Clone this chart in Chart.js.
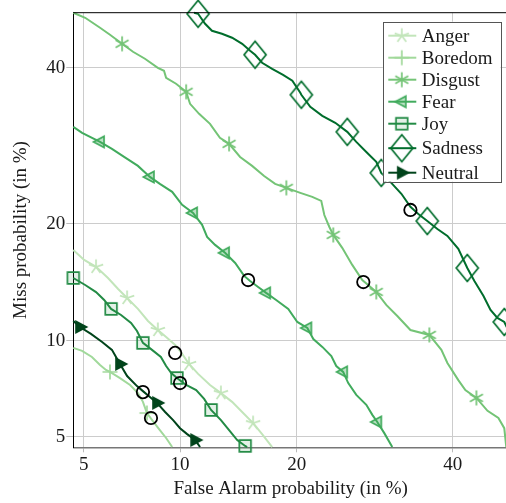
<!DOCTYPE html>
<html>
<head>
<meta charset="utf-8">
<script src="https://cdn.jsdelivr.net/npm/chart.js@4.4.1/dist/chart.umd.min.js"></script>
<style>
html, body { margin: 0; padding: 0; background: #fff; overflow: hidden; }
#wrap { width: 506px; height: 503px; overflow: hidden; }
</style>
</head>
<body>
<div id="wrap"><canvas id="det" width="520" height="503"></canvas></div>
<script>
// DET curves, values in percent (false alarm, miss)
const angerFA   = [4.61, 5.02, 5.50, 6.02, 6.49, 6.93, 7.49, 8.04, 8.61, 9.11, 9.74, 10.14, 10.61, 11.25, 12.13, 12.98, 13.89, 14.92, 15.72, 16.55, 17.51];
const angerMiss = [17.37, 16.42, 15.78, 14.79, 13.85, 13.12, 12.26, 11.36, 10.72, 10.24, 9.66, 9.15, 8.54, 7.97, 7.37, 6.95, 6.52, 5.96, 5.56, 5.11, 4.62];

const boredomFA   = [4.61, 4.94, 5.33, 5.67, 5.93, 6.11, 6.58, 7.08, 7.49, 7.76, 7.98, 8.32, 8.73, 9.11, 9.49];
const boredomMiss = [9.53, 9.34, 8.96, 8.48, 8.19, 8.08, 7.74, 7.37, 6.95, 6.52, 6.00, 5.65, 5.27, 4.96, 4.62];

const disgustFA   = [4.61, 5.06, 5.67, 6.11, 6.68, 7.23, 7.87, 8.61, 8.98, 9.11, 9.74, 10.41, 10.68, 11.32, 12.13, 12.90, 13.64, 14.57, 15.63, 16.74, 17.80, 18.92, 20.38, 21.68, 22.69, 23.04, 23.62, 24.08, 25.14, 26.36, 27.61, 29.40, 30.71, 32.19, 33.98, 36.63, 38.35, 39.22, 40.81, 41.84, 43.48, 45.13, 46.76, 47.64, 47.94];
const disgustMiss = [48.19, 47.44, 45.94, 44.90, 43.55, 42.37, 41.34, 40.01, 39.58, 38.57, 37.71, 36.57, 34.87, 33.49, 32.13, 30.26, 29.47, 27.79, 26.67, 25.44, 24.49, 24.02, 23.44, 22.98, 22.52, 20.95, 19.68, 18.86, 17.57, 15.96, 14.61, 13.61, 12.57, 11.73, 10.72, 10.38, 9.40, 8.60, 7.63, 7.10, 6.71, 6.10, 5.78, 5.35, 4.62];

const fearFA   = [4.61, 4.94, 5.67, 6.20, 6.78, 7.49, 8.15, 8.73, 9.49, 10.14, 10.89, 11.54, 11.91, 12.52, 13.31, 14.15, 14.92, 15.45, 16.18, 16.93, 17.90, 19.12, 20.06, 21.14, 21.80, 22.81, 23.85, 24.43, 25.25, 25.87, 26.86, 28.12, 28.89, 29.53, 30.45, 31.51];
const fearMiss = [31.72, 30.92, 29.73, 28.82, 27.79, 26.67, 25.32, 24.49, 23.56, 22.07, 21.18, 19.90, 18.66, 17.86, 17.09, 16.14, 14.97, 14.53, 14.02, 13.53, 12.96, 12.26, 11.29, 10.86, 10.10, 9.59, 9.02, 8.42, 8.08, 7.47, 6.86, 6.38, 5.92, 5.61, 5.15, 4.62];

const joyFA   = [4.61, 5.06, 5.50, 5.85, 6.16, 6.63, 7.13, 7.44, 7.76, 8.27, 8.79, 9.11, 9.43, 9.80, 10.41, 11.11, 11.69, 12.21, 12.98, 13.64, 14.32, 15.01, 15.18];
const joyMiss = [14.79, 14.19, 13.60, 12.96, 12.26, 11.80, 11.22, 10.65, 9.85, 9.40, 8.96, 8.42, 8.02, 7.74, 7.37, 7.10, 6.66, 6.14, 5.69, 5.27, 4.88, 4.66, 4.62];

const sadnessFA   = [10.96, 11.25, 11.76, 12.28, 13.06, 13.89, 14.75, 15.45, 15.90, 16.55, 17.51, 18.59, 19.54, 20.38, 20.49, 21.46, 22.81, 24.31, 25.75, 26.86, 28.12, 29.40, 30.05, 31.38, 32.74, 33.98, 35.08, 36.34, 37.78, 39.22, 40.81, 42.13, 43.18, 44.53, 45.58, 46.61, 47.64, 48.23];
const sadnessMiss = [48.19, 48.04, 46.54, 45.49, 45.04, 44.45, 43.55, 42.51, 41.93, 40.75, 39.87, 39.00, 38.14, 36.42, 36.14, 34.46, 33.22, 32.27, 31.05, 29.73, 28.43, 27.17, 25.81, 24.61, 23.33, 21.85, 21.07, 20.31, 19.47, 18.76, 17.47, 15.68, 14.53, 13.28, 12.18, 11.58, 11.29, 10.72];

const neutralFA   = [4.61, 4.86, 5.29, 5.76, 6.20, 6.39, 6.58, 6.93, 7.44, 7.76, 8.15, 8.56, 9.05, 9.55, 10.00, 10.48, 11.04, 11.39];
const neutralMiss = [11.36, 10.93, 10.45, 9.91, 9.40, 8.96, 8.54, 7.85, 7.31, 7.05, 6.76, 6.47, 6.05, 5.69, 5.35, 5.11, 4.88, 4.62];

// operating points (black circles): anger, boredom, disgust, fear, joy, sadness, neutral
const opFA   = [9.68, 8.21, 27.74, 15.27, 10.00, 33.98, 7.76];
const opMiss = [9.21, 5.78, 14.44, 14.61, 7.47, 21.51, 7.00];

const tickPercents = [5, 10, 20, 40];
const axisMin = 4.61, axisMax = 48.2;

// inverse normal CDF (Acklam)
function probit(p) {
  const a = [-3.969683028665376e+01, 2.209460984245205e+02, -2.759285104469687e+02, 1.383577518672690e+02, -3.066479806614716e+01, 2.506628277459239e+00];
  const b = [-5.447609879822406e+01, 1.615858368580409e+02, -1.556989798598866e+02, 6.680131188771972e+01, -1.328068155288572e+01];
  const c = [-7.784894002430293e-03, -3.223964580411365e-01, -2.400758277161838e+00, -2.549732539343734e+00, 4.374664141464968e+00, 2.938163982698783e+00];
  const d = [7.784695709041462e-03, 3.224671290700398e-01, 2.445134137142996e+00, 3.754408661907416e+00];
  const pl = 0.02425;
  let q, r;
  if (p < pl) {
    q = Math.sqrt(-2 * Math.log(p));
    return (((((c[0]*q+c[1])*q+c[2])*q+c[3])*q+c[4])*q+c[5]) / ((((d[0]*q+d[1])*q+d[2])*q+d[3])*q+1);
  }
  if (p <= 1 - pl) {
    q = p - 0.5; r = q * q;
    return (((((a[0]*r+a[1])*r+a[2])*r+a[3])*r+a[4])*r+a[5])*q / (((((b[0]*r+b[1])*r+b[2])*r+b[3])*r+b[4])*r+1);
  }
  q = Math.sqrt(-2 * Math.log(1 - p));
  return -(((((c[0]*q+c[1])*q+c[2])*q+c[3])*q+c[4])*q+c[5]) / ((((d[0]*q+d[1])*q+d[2])*q+d[3])*q+1);
}

// marker glyphs drawn on small canvases
function makeMark(kind, color) {
  const s = 34, m = s / 2;
  const cv = document.createElement('canvas');
  cv.width = s; cv.height = s;
  const g = cv.getContext('2d');
  g.strokeStyle = color;
  g.fillStyle = color;
  g.lineWidth = 1.7;
  g.beginPath();
  if (kind === 'star') {
    const r = 7.5;
    for (let k = 0; k < 5; k++) {
      const a = -Math.PI / 2 + k * 2 * Math.PI / 5;
      g.moveTo(m, m);
      g.lineTo(m + r * Math.cos(a), m + r * Math.sin(a));
    }
    g.stroke();
  } else if (kind === 'plus') {
    const r = 7.5;
    g.moveTo(m - r, m); g.lineTo(m + r, m);
    g.moveTo(m, m - r); g.lineTo(m, m + r);
    g.stroke();
  } else if (kind === 'asterisk') {
    const r = 7.5;
    for (let k = 0; k < 3; k++) {
      const a = -Math.PI / 2 + k * Math.PI / 3;
      g.moveTo(m - r * Math.cos(a), m - r * Math.sin(a));
      g.lineTo(m + r * Math.cos(a), m + r * Math.sin(a));
    }
    g.stroke();
  } else if (kind === 'triLeft' || kind === 'triRight') {
    const dir = kind === 'triLeft' ? -1 : 1;
    g.moveTo(m + dir * 6.5, m);
    g.lineTo(m - dir * 4, m - 5.5);
    g.lineTo(m - dir * 4, m + 5.5);
    g.closePath();
    if (kind === 'triRight') {
      g.fill();
    } else {
      g.globalAlpha = 0.35; g.fill(); g.globalAlpha = 1;
    }
    g.stroke();
  } else if (kind === 'square') {
    g.rect(m - 5.8, m - 5.8, 11.6, 11.6);
    g.globalAlpha = 0.12; g.fill(); g.globalAlpha = 1;
    g.stroke();
  } else if (kind === 'diamond') {
    g.moveTo(m, m - 13.5);
    g.lineTo(m + 11, m);
    g.lineTo(m, m + 13.5);
    g.lineTo(m - 11, m);
    g.closePath();
    g.stroke();
  }
  return cv;
}

const curves = [
  { label: 'Anger',   fa: angerFA,   miss: angerMiss,   color: '#c2e5ba', mark: 'star',     marks: [2, 5, 8, 12, 15, 18], markH: 15 },
  { label: 'Boredom', fa: boredomFA, miss: boredomMiss, color: '#a1d99b', mark: 'plus',     marks: [5, 10], markH: 15 },
  { label: 'Disgust', fa: disgustFA, miss: disgustMiss, color: '#74c476', mark: 'asterisk', marks: [4, 11, 16, 21, 27, 31, 35, 40], markH: 15 },
  { label: 'Fear',    fa: fearFA,    miss: fearMiss,    color: '#41ab5d', mark: 'triLeft',  marks: [2, 6, 10, 14, 19, 23, 28, 33], markH: 11 },
  { label: 'Joy',     fa: joyFA,     miss: joyMiss,     color: '#238b45', mark: 'square',   marks: [0, 4, 8, 13, 17, 21], markH: 12 },
  { label: 'Sadness', fa: sadnessFA, miss: sadnessMiss, color: '#006d2c', mark: 'diamond',  marks: [1, 8, 14, 18, 22, 27, 31, 36], markH: 27 },
  { label: 'Neutral', fa: neutralFA, miss: neutralMiss, color: '#00441b', mark: 'triRight', marks: [1, 6, 11, 16], markH: 11 }
];
curves.forEach(cv => { cv.img = makeMark(cv.mark, cv.color); });

const serif = '"Liberation Serif", "Times New Roman", serif';
const textColor = '#1a1a1a';

const datasets = curves.map((cv, k) => ({
  label: cv.label,
  data: cv.fa.map((x, i) => ({ x: probit(x / 100), y: probit(cv.miss[i] / 100) })),
  borderColor: cv.color,
  borderWidth: 2,
  tension: 0,
  clip: false,
  order: -k,
  pointStyle: cv.img,
  pointRadius: c => cv.marks.includes(c.dataIndex) ? 6 : 0,
  pointHoverRadius: 0
}));

datasets.push({
  label: 'op',
  data: opFA.map((x, i) => ({ x: probit(x / 100), y: probit(opMiss[i] / 100) })),
  showLine: false,
  pointStyle: 'circle',
  pointRadius: 6.2,
  borderColor: '#000',
  backgroundColor: 'rgba(0,0,0,0)',
  borderWidth: 1.8,
  clip: false,
  order: -100
});

// top/right frame and legend box
const framePlugin = {
  id: 'frame',
  afterDatasetsDraw(chart) {
    const { ctx, chartArea: a } = chart;
    ctx.save();
    ctx.strokeStyle = '#000';
    ctx.lineWidth = 1;
    ctx.beginPath();
    ctx.moveTo(a.left, a.top);
    ctx.lineTo(a.right, a.top);
    ctx.lineTo(a.right, a.bottom);
    ctx.stroke();

    ctx.font = '19px ' + serif;
    const maxW = Math.max(...curves.map(cv => ctx.measureText(cv.label).width));
    const right = a.right - 7.5;
    const top = a.top + 9;
    const left = right - (39 + maxW + 8);
    const rowH = cv => Math.max(22, cv.markH);
    const centers = [];
    let y = top + 14;
    curves.forEach((cv, i) => {
      if (i > 0) y += (rowH(curves[i - 1]) + rowH(cv)) / 2;
      centers.push(y);
    });
    const bottom = centers[centers.length - 1] + 9;
    ctx.fillStyle = '#fff';
    ctx.fillRect(left, top, right - left, bottom - top);
    ctx.strokeStyle = '#555';
    ctx.lineWidth = 1;
    ctx.strokeRect(Math.round(left) + 0.5, Math.round(top) + 0.5, Math.round(right - left), Math.round(bottom - top));

    ctx.textBaseline = 'middle';
    ctx.textAlign = 'left';
    curves.forEach((cv, i) => {
      const cy = centers[i];
      ctx.strokeStyle = cv.color;
      ctx.lineWidth = 2;
      ctx.beginPath();
      ctx.moveTo(left + 5.5, cy);
      ctx.lineTo(left + 33.5, cy);
      ctx.stroke();
      ctx.drawImage(cv.img, left + 19 - cv.img.width / 2, cy - cv.img.height / 2);
      ctx.fillStyle = textColor;
      ctx.fillText(cv.label, left + 39, cy + 1);
    });
    ctx.restore();
  }
};

const tickFont = { family: serif, size: 19 };

new Chart(document.getElementById('det'), {
  type: 'line',
  data: { datasets },
  options: {
    responsive: false,
    animation: false,
    events: [],
    layout: { padding: { top: 12.7, right: 12, left: 0, bottom: 0 } },
    plugins: { legend: { display: false }, tooltip: { enabled: false } },
    scales: {
      x: {
        type: 'linear',
        min: probit(axisMin / 100),
        max: probit(axisMax / 100),
        afterBuildTicks: s => { s.ticks = tickPercents.map(v => ({ value: probit(v / 100) })); },
        afterFit: s => { s.height = 55.7; },
        ticks: { callback: (v, i) => tickPercents[i], font: tickFont, color: textColor, padding: 1, maxRotation: 0, autoSkip: false },
        grid: { color: '#cccccc', lineWidth: 1, tickLength: 5, tickColor: '#bbbbbb' },
        border: { color: '#777', width: 1.5 },
        title: { display: true, text: 'False Alarm probability (in %)', font: tickFont, color: textColor, padding: { top: 0, bottom: 2.6 } }
      },
      y: {
        type: 'linear',
        min: probit(axisMin / 100),
        max: probit(axisMax / 100),
        afterBuildTicks: s => { s.ticks = tickPercents.map(v => ({ value: probit(v / 100) })); },
        afterFit: s => { s.width = 73.3; },
        ticks: { callback: (v, i) => tickPercents[i], font: tickFont, color: textColor, padding: 1, autoSkip: false },
        grid: { color: '#cccccc', lineWidth: 1, tickLength: 7, tickColor: '#bbbbbb' },
        border: { color: '#000', width: 1 },
        title: { display: true, text: 'Miss probability (in %)', font: tickFont, color: textColor, padding: { top: 9.6, bottom: 0 } }
      }
    }
  },
  plugins: [framePlugin]
});
</script>
</body>
</html>
